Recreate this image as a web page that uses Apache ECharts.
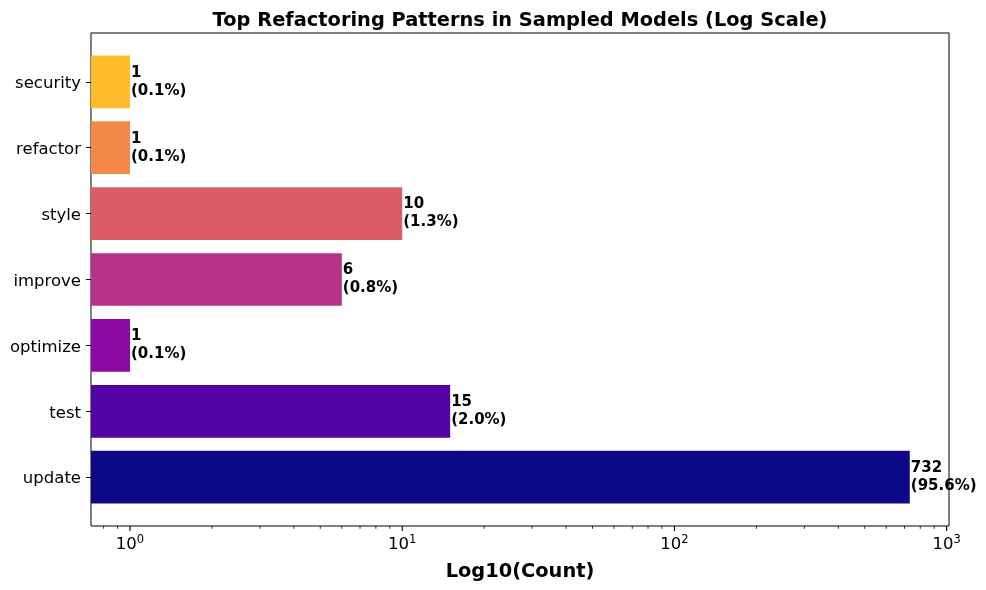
<!DOCTYPE html>
<html>
<head>
<meta charset="utf-8">
<script src="https://cdn.jsdelivr.net/npm/echarts@6/dist/echarts.min.js"></script>
<style>
html,body{margin:0;padding:0;background:#fff;}
#chart{width:986px;height:590px;}
</style>
</head>
<body>
<div id="chart"></div>
<script>
var categories = ['update', 'test', 'optimize', 'improve', 'style', 'refactor', 'security'];
var counts = [732, 15, 1, 6, 10, 1, 1];
var percents = ['95.6', '2.0', '0.1', '0.8', '1.3', '0.1', '0.1'];
var colors = ['#0d0887', '#5302a3', '#8b0aa5', '#b83289', '#db5c68', '#f48849', '#febd2a'];
var majorTicks = [1, 10, 100, 1000];
var minorTicks = [0.8, 0.9, 2, 3, 4, 5, 6, 7, 8, 9, 20, 30, 40, 50, 60, 70, 80, 90, 200, 300, 400, 500, 600, 700, 800, 900];

var FONT = 'DejaVu Sans';
var X_MIN = 0.719, X_MAX = 1020;

var chart = echarts.init(document.getElementById('chart'), null, {renderer: 'canvas'});

function tickSeries(values, len, width) {
  return {
    type: 'custom',
    xAxisIndex: 0,
    yAxisIndex: 0,
    silent: true,
    clip: false,
    data: values.map(function (v) { return [v, 0]; }),
    encode: {x: 0, y: 1},
    renderItem: function (params, api) {
      var x = api.coord([api.value(0), 0])[0];
      var cs = params.coordSys;
      var y = cs.y + cs.height;
      return {
        type: 'line',
        shape: {x1: x, y1: y, x2: x, y2: y + len},
        style: {stroke: '#000', lineWidth: width}
      };
    }
  };
}

var option = {
  animation: false,
  backgroundColor: '#fff',
  title: {
    text: 'Top Refactoring Patterns in Sampled Models (Log Scale)',
    left: 520,
    top: 11,
    padding: 0,
    textAlign: 'center',
    textStyle: {fontFamily: FONT, fontSize: 19.4, fontWeight: 'bold', color: '#000'}
  },
  grid: [
    {left: 91, top: 33, width: 858, height: 493, show: true, borderColor: '#000', borderWidth: 1, backgroundColor: 'transparent', containLabel: false},
    {left: 91, top: 48.85, width: 858, height: 461.3, containLabel: false}
  ],
  xAxis: [
    {
      type: 'log', gridIndex: 0, min: X_MIN, max: X_MAX,
      axisLine: {show: false}, axisTick: {show: false}, splitLine: {show: false}, minorTick: {show: false},
      axisLabel: {
        showMinLabel: false, showMaxLabel: false,
        margin: 8,
        color: '#000', fontFamily: FONT, fontSize: 16.5,
        formatter: function (v) {
          var e = Math.round(Math.log(v) / Math.LN10);
          return '{b|10}{sup|' + e + '}';
        },
        rich: {
          b: {fontFamily: FONT, fontSize: 16.5, color: '#000'},
          sup: {fontFamily: FONT, fontSize: 11.5, color: '#000', padding: [0, 0, 9, 0]}
        }
      },
      name: 'Log10(Count)',
      nameLocation: 'middle',
      nameGap: 36,
      nameTextStyle: {fontFamily: FONT, fontSize: 19.4, fontWeight: 'bold', color: '#000'}
    },
    {
      type: 'log', gridIndex: 1, min: X_MIN, max: X_MAX, startValue: X_MIN,
      show: false, splitLine: {show: false}
    }
  ],
  yAxis: [
    {type: 'value', gridIndex: 0, min: 0, max: 1, show: false, splitLine: {show: false}},
    {
      type: 'category', gridIndex: 1, data: categories,
      axisLine: {show: false},
      axisTick: {show: true, alignWithLabel: true, length: 5, lineStyle: {color: '#000', width: 1}},
      axisLabel: {
        margin: 10, color: '#000', fontFamily: FONT, fontSize: 16.5,
        formatter: function (v) { return '{c|' + v + '}'; },
        rich: {c: {fontFamily: FONT, fontSize: 16.5, color: '#000', padding: [4, 0, 0, 0]}}
      },
      splitLine: {show: false}
    }
  ],
  series: [
    {
      type: 'bar',
      xAxisIndex: 1,
      yAxisIndex: 1,
      barWidth: '80%',
      data: counts.map(function (c, i) {
        return {value: c, itemStyle: {color: colors[i]}};
      }),
      label: {
        show: true,
        position: 'right',
        distance: 1,
        align: 'left',
        color: '#000',
        fontFamily: FONT,
        fontSize: 15,
        fontWeight: 'bold',
        lineHeight: 18,
        formatter: function (p) {
          return p.value + '\n(' + percents[p.dataIndex] + '%)';
        }
      }
    },
    tickSeries(majorTicks, 4.9, 1.1),
    tickSeries(minorTicks, 2.8, 0.8)
  ]
};
chart.setOption(option);
</script>
</body>
</html>
